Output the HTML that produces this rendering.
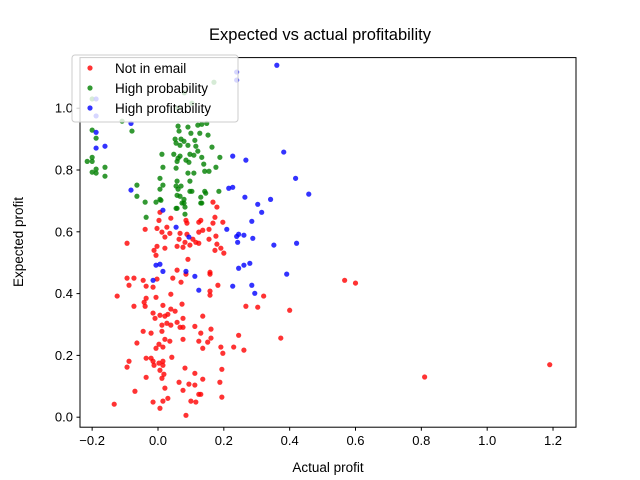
<!DOCTYPE html>
<html><head><meta charset="utf-8"><style>
body{margin:0;background:#fff;}
svg{display:block;font-family:"Liberation Sans","DejaVu Sans",sans-serif;}
</style></head><body>
<svg id="chart" width="640" height="480" xmlns="http://www.w3.org/2000/svg">
<rect width="640" height="480" fill="#fff"/>
<text x="320" y="40" text-anchor="middle" font-size="16.5">Expected vs actual profitability</text>
<g id="plot"></g>
<rect x="80" y="57.6" width="496" height="369.6" fill="none" stroke="#000" stroke-width="1"/>
<g id="xticks"></g>
<g id="yticks"></g>
<text x="328" y="472" text-anchor="middle" font-size="13.5">Actual profit</text>
<text transform="translate(23,242) rotate(-90)" text-anchor="middle" font-size="13.5">Expected profit</text>
<g>
<rect x="72" y="55" width="166" height="67" rx="3" fill="#fff" fill-opacity="0.8" stroke="#ccc"/>
<circle cx="90" cy="68" r="2.6" fill="red" fill-opacity="0.8"/>
<text x="115" y="73" font-size="13.5">Not in email</text>
<circle cx="90" cy="88" r="2.6" fill="green" fill-opacity="0.8"/>
<text x="115" y="93" font-size="13.5">High probability</text>
<circle cx="90" cy="108" r="2.6" fill="blue" fill-opacity="0.8"/>
<text x="115" y="113" font-size="13.5">High profitability</text>
</g>
</svg>
<script>
const xTicks=[-0.2,0,0.2,0.4,0.6,0.8,1.0,1.2];
const yTicks=[0.0,0.2,0.4,0.6,0.8,1.0];
const xTickLabels=["−0.2","0.0","0.2","0.4","0.6","0.8","1.0","1.2"];
const yTickLabels=["0.0","0.2","0.4","0.6","0.8","1.0"];
const redX=[.167,.179,.006,.039,.003,.085,.088,.173,.124,.13,.167,.197,-.039,-.003,.027,.012,.036,.021,.067,.088,.124,.155,.176,.136,.106,.115,.124,.155,.064,.082,.097,.058,.076,.021,-.003,-.012,-.006,-.094,.179,.191,.173,.2,.091,.058,.045,.07,.085,.158,.158,-.094,-.073,-.045,-.003,-.088,-.036,-.015,.182,.158,.158,.039,-.124,-.006,-.036,-.042,-.039,-.073,.015,.073,.321,.267,.303,.4,-.015,-.009,.006,.021,.039,.052,.03,.076,.136,.012,.027,.039,.058,.067,.076,.112,.161,-.045,-.021,.012,.13,.021,.036,.076,.124,.151,.161,.245,.373,-.064,.003,-.006,.015,.136,.191,.23,.261,.197,-.088,-.094,-.036,-.021,-.015,-.012,.003,.015,.015,.042,.006,.018,.012,-.036,.082,.112,.194,.136,.064,.094,.112,.188,.021,.076,-.07,.124,.13,.194,.03,-.015,.015,.1,.115,-.133,.006,.085,.567,.6,1.19,.81];
const redY=[.696,.68,.663,.644,.637,.637,.628,.647,.631,.637,.628,.631,.608,.611,.615,.599,.595,.583,.595,.592,.599,.608,.586,.605,.576,.566,.563,.576,.576,.566,.557,.553,.55,.547,.553,.54,.524,.563,.56,.547,.54,.531,.511,.476,.45,.437,.463,.469,.463,.45,.45,.443,.447,.427,.424,.421,.427,.408,.395,.398,.392,.388,.385,.372,.359,.359,.362,.366,.392,.359,.356,.346,.337,.32,.33,.327,.35,.343,.333,.32,.327,.298,.304,.298,.307,.291,.291,.294,.285,.278,.272,.278,.272,.252,.246,.252,.246,.243,.256,.265,.256,.24,.236,.223,.227,.223,.227,.227,.217,.207,.181,.162,.191,.191,.181,.168,.175,.181,.168,.194,.152,.139,.126,.129,.159,.142,.155,.123,.113,.107,.104,.113,.094,.087,.084,.074,.074,.065,.061,.049,.052,.052,.049,.042,.029,.006,.443,.434,.17,.13];
const greenX=[.17,.103,-.109,-.079,-.2,-.188,-.2,-.215,-.2,-.188,-.2,-.188,-.161,-.161,.061,.091,.121,.133,.148,.064,.1,.127,.152,.052,.07,.079,.112,.055,.067,.091,.115,.164,.121,.012,.048,.061,.058,.067,.085,.097,.109,.133,.188,.094,.139,.015,.055,.176,.091,.109,.142,.155,.006,.058,.097,-.064,.015,.006,.055,.061,.07,.097,.103,.142,.145,-.064,.067,.13,.006,-.006,-.039,.079,.073,.13,.058,.082,.082,-.036,.185,.133,.009,.058,.055,.079,-.2,.08,.06];
const greenY=[1.084,1.016,.958,.926,.929,.903,.841,.828,.828,.803,.793,.79,.809,.78,.942,.939,.945,.948,.951,.926,.919,.919,.913,.9,.9,.893,.896,.887,.88,.88,.877,.874,.861,.851,.851,.838,.828,.845,.832,.851,.848,.841,.841,.825,.819,.809,.806,.809,.79,.79,.796,.796,.773,.764,.764,.751,.751,.738,.748,.738,.748,.731,.731,.731,.725,.715,.715,.712,.705,.696,.696,.705,.693,.693,.676,.68,.657,.647,.731,.693,.702,.718,.676,.693,1.03,1.05,1.0];
const blueX=[.239,.239,.361,-.188,-.188,-.161,-.082,-.082,.227,.267,.215,.227,.264,.303,.342,.315,.285,.209,.015,.055,.094,.245,.261,.288,.239,.382,.418,.458,.421,.352,.391,.279,.261,.245,.285,.294,.227,.124,.112,.085,.242,-.006,.006,.015,-.015,-.188,-.188];
const blueY=[1.117,1.091,1.139,.922,.871,.877,.951,.735,.845,.832,.741,.744,.712,.689,.705,.663,.634,.608,.67,.615,.583,.592,.589,.579,.585,.858,.773,.722,.563,.557,.463,.498,.492,.482,.427,.401,.424,.411,.456,.472,.566,.492,.495,.472,.443,1.03,.975];
const NS='http://www.w3.org/2000/svg';
const xMin=-0.2369,xMax=1.2698,yMin=-0.0324,yMax=1.1638;
const L=80,R=576,T=57.6,B=427.2;
function sx(v){return L+(v-xMin)/(xMax-xMin)*(R-L);}
function sy(v){return B-(v-yMin)/(yMax-yMin)*(B-T);}
const plot=document.getElementById('plot');
function series(xs,ys,color,name){
  for(let i=0;i<xs.length;i++){
    const c=document.createElementNS(NS,'circle');
    c.setAttribute('cx',sx(xs[i]));c.setAttribute('cy',sy(ys[i]));
    c.setAttribute('r',2.6);c.setAttribute('fill',color);c.setAttribute('fill-opacity',0.8);
    
    
    plot.appendChild(c);
  }
}
series(redX,redY,'red','not-in-email');
series(greenX,greenY,'green','high-probability');
series(blueX,blueY,'blue','high-profitability');
const xg=document.getElementById('xticks');
xTicks.forEach((v,i)=>{
  const l=document.createElementNS(NS,'line');
  l.setAttribute('x1',sx(v));l.setAttribute('x2',sx(v));l.setAttribute('y1',B);l.setAttribute('y2',B+3.5);l.setAttribute('stroke','#000');
  
  
  xg.appendChild(l);
  const t=document.createElementNS(NS,'text');
  t.setAttribute('x',sx(v));t.setAttribute('y',B+18);t.setAttribute('text-anchor','middle');t.setAttribute('font-size','13');
  t.textContent=xTickLabels[i];
  
  
  xg.appendChild(t);
});
const yg=document.getElementById('yticks');
yTicks.forEach((v,i)=>{
  const l=document.createElementNS(NS,'line');
  l.setAttribute('x1',L-3.5);l.setAttribute('x2',L);l.setAttribute('y1',sy(v));l.setAttribute('y2',sy(v));l.setAttribute('stroke','#000');
  
  
  yg.appendChild(l);
  const t=document.createElementNS(NS,'text');
  t.setAttribute('x',L-7);t.setAttribute('y',sy(v)+4.5);t.setAttribute('text-anchor','end');t.setAttribute('font-size','13');
  t.textContent=yTickLabels[i];
  
  
  yg.appendChild(t);
});
</script>
</body></html>
